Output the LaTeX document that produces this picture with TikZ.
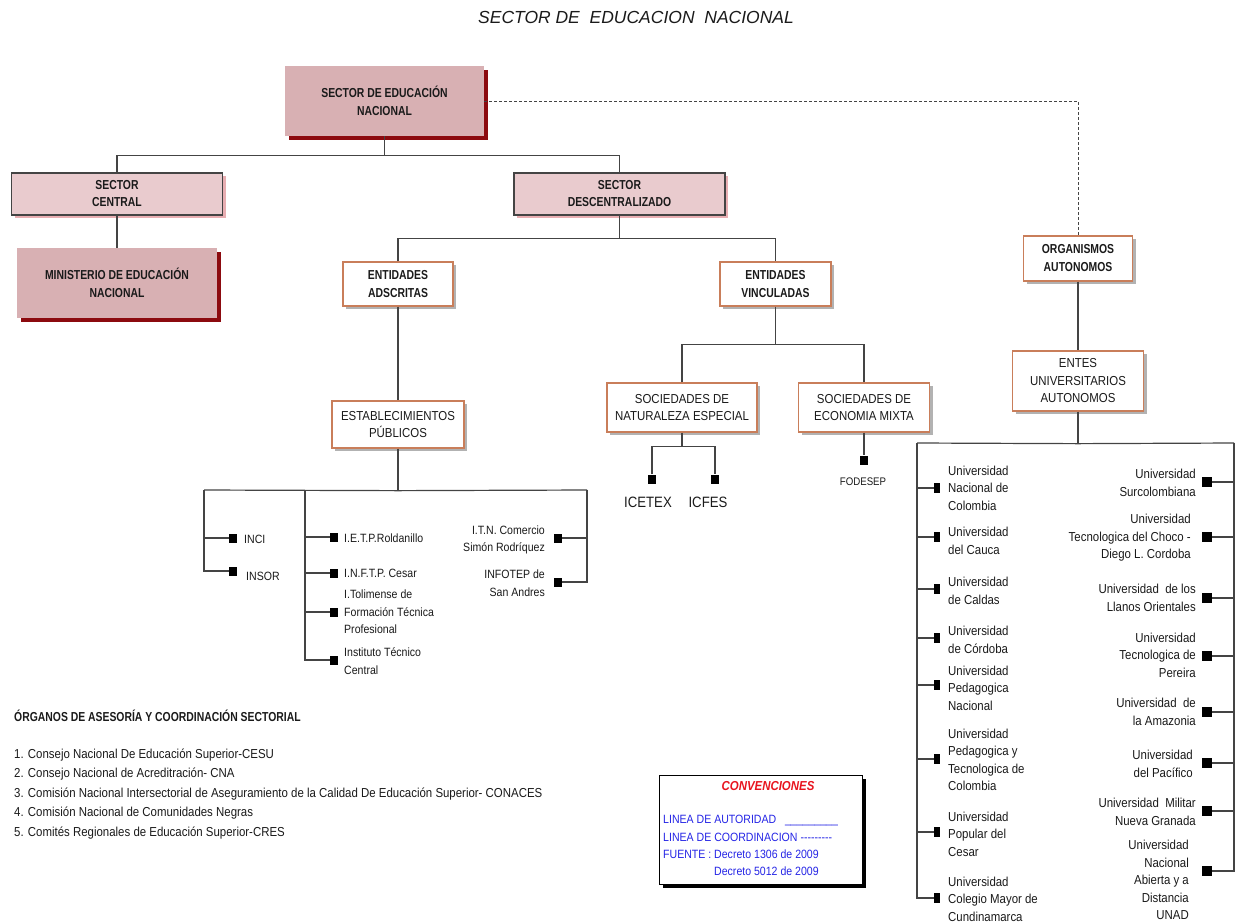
\documentclass[tikz,border=0pt]{standalone}
\usepackage{fontspec}
\setmainfont{Liberation Sans}[FakeStretch=0.88]
\newfontfamily\boxfont{Liberation Sans}[FakeStretch=0.8]
\newfontfamily\titlefont{Liberation Sans}
\usetikzlibrary{shadows}
\definecolor{rosaosc}{HTML}{D8B0B3}
\definecolor{rosacla}{HTML}{E9CBCE}
\definecolor{rojosomb}{HTML}{8C0A0F}
\definecolor{rosasomb}{HTML}{E8AEB2}
\definecolor{borde}{HTML}{C97E5A}
\definecolor{linea}{HTML}{444444}
\definecolor{tinta}{HTML}{1A1A1A}
\definecolor{azulconv}{HTML}{2626E6}
\definecolor{rojoconv}{HTML}{E8141E}

\begin{document}
\begin{tikzpicture}[x=1pt,y=-1pt]
            \tikzstyle{every node}+=[inner sep=0pt, text=tinta]
            \tikzstyle{cajaA}=[fill=rosaosc, align=center, font=\boxfont\bfseries\fontsize{13}{18}\selectfont,
                drop shadow={shadow xshift=4pt, shadow yshift=-4pt, fill=rojosomb, opacity=1}]
            \tikzstyle{cajaB}=[fill=rosacla, draw=linea, line width=1.2pt, align=center, font=\boxfont\bfseries\fontsize{13}{17}\selectfont,
                drop shadow={shadow xshift=3pt, shadow yshift=-3pt, fill=rosasomb, opacity=1}]
            \tikzstyle{entidad}=[fill=white, draw=borde, line width=1.3pt, align=center, font=\boxfont\bfseries\fontsize{13}{18}\selectfont,
                drop shadow={shadow xshift=3pt, shadow yshift=-3pt, fill=black!30, opacity=1}]
            \tikzstyle{entidadn}=[entidad, font=\fontsize{13}{17.5}\selectfont]
            \tikzstyle{con}=[draw=linea, line width=1.2pt]
            \tikzstyle{cuad}=[fill=black, minimum width=8pt, minimum height=9pt]
            \tikzstyle{txt}=[align=left, font=\fontsize{12}{17.5}\selectfont]
            \tikzstyle{univ}=[font=\fontsize{13}{17.5}\selectfont]
            \useasboundingbox (0,0) rectangle (1236,922);
            % titulo
            \node[font=\titlefont\itshape\fontsize{17.5}{20}\selectfont] (titulo) at (636,17) {SECTOR DE\ \ EDUCACION\ \ NACIONAL};
            % cajas superiores
            \node[cajaA, minimum width=199pt, minimum height=70pt] (sen) at (384.5,101) {SECTOR DE EDUCACIÓN\\NACIONAL};
            \node[cajaB, minimum width=211pt, minimum height=42pt] (sc) at (117,194) {SECTOR\\CENTRAL};
            \node[cajaB, minimum width=211pt, minimum height=42pt] (sd) at (619.5,194) {SECTOR\\DESCENTRALIZADO};
            \node[cajaA, minimum width=200pt, minimum height=70pt] (men) at (117,283) {MINISTERIO DE EDUCACIÓN\\NACIONAL};
            \node[entidad, minimum width=110pt, minimum height=44pt] (ea) at (398,284) {ENTIDADES\\ADSCRITAS};
            \node[entidad, minimum width=111pt, minimum height=44pt] (ev) at (775.5,284) {ENTIDADES\\VINCULADAS};
            \node[entidad, minimum width=109pt, minimum height=45pt] (oa) at (1078,258.5) {ORGANISMOS\\AUTONOMOS};
            \node[entidadn, minimum width=131pt, minimum height=60pt] (entes) at (1078,381) {ENTES\\UNIVERSITARIOS\\AUTONOMOS};
            \node[entidadn, minimum width=132pt, minimum height=47pt] (ep) at (398,424.5) {ESTABLECIMIENTOS\\PÚBLICOS};
            \node[entidadn, minimum width=150pt, minimum height=49pt] (sne) at (682,407.5) {SOCIEDADES DE\\NATURALEZA ESPECIAL};
            \node[entidadn, minimum width=131pt, minimum height=49pt] (sem) at (864,407.5) {SOCIEDADES DE\\ECONOMIA MIXTA};
            % lineas de autoridad
            \draw[con] (sen.south) -- ++(0,19) coordinate (b1);
            \draw[con] (sc.north) |- (b1) -| (sd.north);
            \draw[con] (sc.south) -- (men.north);
            \draw[con] (sd.south) -- ++(0,23) coordinate (b2);
            \draw[con] (ea.north) |- (b2) -| (ev.north);
            \draw[con] (oa.south) -- (entes.north);
            \draw[con] (ea.south) -- (ep.north);
            \draw[con] (ev.south) -- ++(0,38) coordinate (b3);
            \draw[con] (sne.north) |- (b3) -| (sem.north);
            % linea de coordinacion
            \draw[con, line width=1pt, dash pattern=on 3pt off 2pt] (sen.east) -| (oa.north);
            % sociedades
            \node[cuad] (icetex) at (652,479) {};
            \node[cuad] (icfes) at (715,479) {};
            \node[font=\fontsize{15}{17}\selectfont] (ticetex) at (648,502) {ICETEX};
            \node[font=\fontsize{15}{17}\selectfont] (ticfes) at (708,502) {ICFES};
            \draw[con] (sne.south) -- ++(0,14) coordinate (b4);
            \draw[con] (icetex.north) |- (b4) -| (icfes.north);
            \node[cuad] (fodesep) at (864,460) {};
            \node[font=\fontsize{11}{13}\selectfont] (tfodesep) at (863,482) {FODESEP};
            \draw[con] (sem.south) -- (fodesep.north);
            % establecimientos publicos
            \draw[con] (ep.south) -- ++(0,42) coordinate (b5);
            \coordinate (v1) at (204,490);
            \coordinate (v2) at (305,490);
            \coordinate (v3) at (587,490);
            \draw[con] (v1) -- (b5) -- (v3);
            \node[cuad] (inci) at (233,538) {};
            \node[txt, anchor=west] (tinci) at (244,539) {INCI};
            \node[cuad] (insor) at (233,571) {};
            \node[txt, anchor=west] (tinsor) at (246,576) {INSOR};
            \node[cuad] (ietp) at (334,537) {};
            \node[txt, anchor=west] (tietp) at (344,538) {I.E.T.P.Roldanillo};
            \node[cuad] (inftp) at (334,573) {};
            \node[txt, anchor=west] (tinftp) at (344,573) {I.N.F.T.P. Cesar};
            \node[cuad] (itol) at (334,612) {};
            \node[txt, anchor=west] (titol) at (344,612) {I.Tolimense de\\Formación Técnica\\Profesional};
            \node[cuad] (itc) at (334,660) {};
            \node[txt, anchor=west] (titc) at (344,661) {Instituto Técnico\\Central};
            \node[cuad] (itn) at (558,538) {};
            \node[txt, align=right, anchor=east] (titn) at (545,540) {I.T.N. Comercio\\Simón Rodríquez};
            \node[cuad] (infotep) at (558,582) {};
            \node[txt, align=right, anchor=east] (tinfotep) at (545,583) {INFOTEP de\\San Andres};
            \draw[con] (v1) |- (inci.west);
            \draw[con] (v1) |- (insor.west);
            \draw[con] (v2) |- (ietp.west);
            \draw[con] (v2) |- (inftp.west);
            \draw[con] (v2) |- (itol.west);
            \draw[con] (v2) |- (itc.west);
            \draw[con] (v3) |- (itn.east);
            \draw[con] (v3) |- (infotep.east);
            % entes universitarios
            \draw[con] (entes.south) -- ++(0,32) coordinate (b6);
            \coordinate (w1) at (917,443);
            \coordinate (w2) at (1234,443);
            \draw[con] (w1) -- (b6) -- (w2);
            \node[cuad, minimum width=6pt, minimum height=10pt] (u1) at (937,488) {};
            \node[univ, align=left, anchor=west] (tu1) at (948,488) {Universidad\\Nacional de\\Colombia};
            \node[cuad, minimum width=6pt, minimum height=10pt] (u2) at (937,537) {};
            \node[univ, align=left, anchor=west] (tu2) at (948,541) {Universidad\\del Cauca};
            \node[cuad, minimum width=6pt, minimum height=10pt] (u3) at (937,589) {};
            \node[univ, align=left, anchor=west] (tu3) at (948,591) {Universidad\\de Caldas};
            \node[cuad, minimum width=6pt, minimum height=10pt] (u4) at (937,638) {};
            \node[univ, align=left, anchor=west] (tu4) at (948,640) {Universidad\\de Córdoba};
            \node[cuad, minimum width=6pt, minimum height=10pt] (u5) at (937,685) {};
            \node[univ, align=left, anchor=west] (tu5) at (948,688) {Universidad\\Pedagogica\\Nacional};
            \node[cuad, minimum width=6pt, minimum height=10pt] (u6) at (937,759) {};
            \node[univ, align=left, anchor=west] (tu6) at (948,760) {Universidad\\Pedagogica y\\Tecnologica de\\Colombia};
            \node[cuad, minimum width=6pt, minimum height=10pt] (u7) at (937,832) {};
            \node[univ, align=left, anchor=west] (tu7) at (948,834) {Universidad\\Popular del\\Cesar};
            \node[cuad, minimum width=6pt, minimum height=10pt] (u8) at (937,898) {};
            \node[univ, align=left, anchor=west] (tu8) at (948,899) {Universidad\\Colegio Mayor de\\Cundinamarca};
            \node[cuad, minimum width=10pt, minimum height=10pt] (r1) at (1207,482) {};
            \node[univ, align=right, anchor=east] (tr1) at (1196,483) {Universidad\\Surcolombiana};
            \node[cuad, minimum width=10pt, minimum height=10pt] (r2) at (1207,537) {};
            \node[univ, align=right, anchor=east] (tr2) at (1191,538) {Universidad\\Tecnologica del Choco -\\Diego L. Cordoba};
            \node[cuad, minimum width=10pt, minimum height=10pt] (r3) at (1207,598) {};
            \node[univ, align=right, anchor=east] (tr3) at (1196,598) {Universidad\ \ de los\\Llanos Orientales};
            \node[cuad, minimum width=10pt, minimum height=10pt] (r4) at (1207,656) {};
            \node[univ, align=right, anchor=east] (tr4) at (1196,655) {Universidad\\Tecnologica de\\Pereira};
            \node[cuad, minimum width=10pt, minimum height=10pt] (r5) at (1207,712) {};
            \node[univ, align=right, anchor=east] (tr5) at (1196,712) {Universidad\ \ de\\la Amazonia};
            \node[cuad, minimum width=10pt, minimum height=10pt] (r6) at (1207,763) {};
            \node[univ, align=right, anchor=east] (tr6) at (1193,764) {Universidad\\del Pacífico};
            \node[cuad, minimum width=10pt, minimum height=10pt] (r7) at (1207,811) {};
            \node[univ, align=right, anchor=east] (tr7) at (1196,812) {Universidad\ \ Militar\\Nueva Granada};
            \node[cuad, minimum width=10pt, minimum height=10pt] (r8) at (1207,871) {};
            \node[univ, align=right, anchor=east] (tr8) at (1189,880) {Universidad\\Nacional\\Abierta y a\\Distancia\\UNAD};
            \draw[con] (w1) |- (u1.west);
            \draw[con] (w1) |- (u2.west);
            \draw[con] (w1) |- (u3.west);
            \draw[con] (w1) |- (u4.west);
            \draw[con] (w1) |- (u5.west);
            \draw[con] (w1) |- (u6.west);
            \draw[con] (w1) |- (u7.west);
            \draw[con] (w1) |- (u8.west);
            \draw[con] (w2) |- (r1.east);
            \draw[con] (w2) |- (r2.east);
            \draw[con] (w2) |- (r3.east);
            \draw[con] (w2) |- (r4.east);
            \draw[con] (w2) |- (r5.east);
            \draw[con] (w2) |- (r6.east);
            \draw[con] (w2) |- (r7.east);
            \draw[con] (w2) |- (r8.east);
            % organos de asesoria
            \node[anchor=west, font=\boxfont\bfseries\fontsize{13}{15}\selectfont] (organos) at (14,716) {ÓRGANOS DE ASESORÍA Y COORDINACIÓN SECTORIAL};
            \node[anchor=west, align=left, font=\fontsize{13}{19.5}\selectfont] (lista) at (14,794) {1. Consejo Nacional De Educación Superior-CESU\\2. Consejo Nacional de Acreditración- CNA\\3. Comisión Nacional Intersectorial de Aseguramiento de la Calidad De Educación Superior- CONACES\\4. Comisión Nacional de Comunidades Negras\\5. Comités Regionales de Educación Superior-CRES};
            % convenciones
            \node[fill=white, draw=black, line width=1pt, minimum width=203pt, minimum height=109pt,
                drop shadow={shadow xshift=4pt, shadow yshift=-4pt, fill=black, opacity=1}] (conv) at (760.5,829.5) {};
            \node[text=rojoconv, font=\bfseries\itshape\fontsize{13}{15}\selectfont] (tconv) at (768,786) {CONVENCIONES};
            \node[text=azulconv, anchor=west, font=\fontsize{12}{14}\selectfont] (autor) at (663,820) {LINEA DE AUTORIDAD\ \ \ \_\_\_\_\_\_\_\_\_};
            \node[text=azulconv, anchor=west, font=\fontsize{12}{14}\selectfont] (coord) at (663,837) {LINEA DE COORDINACION {-}{-}{-}{-}{-}{-}{-}{-}{-}};
            \node[text=azulconv, anchor=west, font=\fontsize{12}{14}\selectfont] (fuente1) at (663,854) {FUENTE : Decreto 1306 de 2009};
            \node[text=azulconv, anchor=west, font=\fontsize{12}{14}\selectfont] (fuente2) at (714,871) {Decreto 5012 de 2009};
        \end{tikzpicture}
\end{document}
